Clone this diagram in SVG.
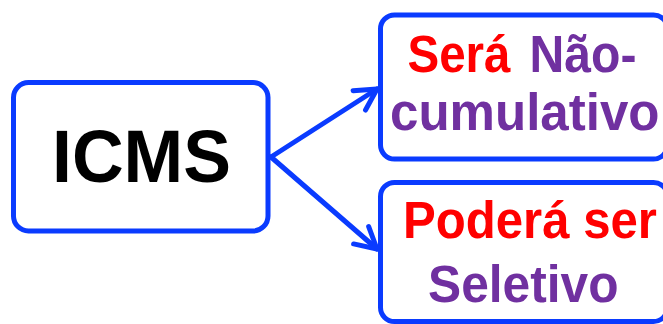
<svg xmlns="http://www.w3.org/2000/svg" width="663" height="324" viewBox="0 0 663 324">
  <style>
    .box { fill: #ffffff; stroke: #0A3BFF; stroke-width: 5; }
    .conn { fill: none; stroke: #0A3BFF; stroke-width: 5; stroke-linecap: round; }
    .t { font-family: "Liberation Sans", Arial, sans-serif; font-weight: bold; font-size: 51px; }
    .red { fill: #FF0000; }
    .purple { fill: #7030A0; }
  </style>
  <defs>
    <marker id="arrow" markerUnits="userSpaceOnUse" markerWidth="40" markerHeight="40" refX="0" refY="0" orient="auto" viewBox="-30 -20 40 40" overflow="visible">
      <path d="M-21,-11.5 L0,0 L-21,11.5" fill="none" stroke="#0A3BFF" stroke-width="5" stroke-linecap="round" stroke-linejoin="round"/>
    </marker>
  </defs>
  <rect width="663" height="324" fill="#ffffff"/>
  <g id="connectors">
    <line class="conn" x1="271" y1="157" x2="377" y2="89" marker-end="url(#arrow)"/>
    <line class="conn" x1="271" y1="157" x2="377" y2="249" marker-end="url(#arrow)"/>
  </g>
  <g id="icms">
    <rect class="box" x="13.5" y="82.5" width="254.5" height="148.5" rx="15"/>
    <text x="52" y="181.7" font-family="Liberation Sans, Arial, sans-serif" font-weight="bold" font-size="74.5" fill="#000000" textLength="179" lengthAdjust="spacingAndGlyphs">ICMS</text>
  </g>
  <g id="nao-cumulativo">
    <rect class="box" x="380.5" y="15" width="287" height="144" rx="14"/>
    <text class="t red" x="407.5" y="71.7" textLength="103" lengthAdjust="spacingAndGlyphs">Será</text>
    <text class="t purple" x="529.5" y="71.7" textLength="107" lengthAdjust="spacingAndGlyphs">Não-</text>
    <text class="t purple" x="390" y="130" textLength="269.5" lengthAdjust="spacingAndGlyphs">cumulativo</text>
  </g>
  <g id="seletivo">
    <rect class="box" x="380.5" y="182.5" width="287" height="139" rx="14"/>
    <text class="t red" x="403" y="238.3" textLength="254" lengthAdjust="spacingAndGlyphs">Poderá ser</text>
    <text class="t purple" x="428" y="301.7" textLength="190.5" lengthAdjust="spacingAndGlyphs">Seletivo</text>
  </g>
</svg>
